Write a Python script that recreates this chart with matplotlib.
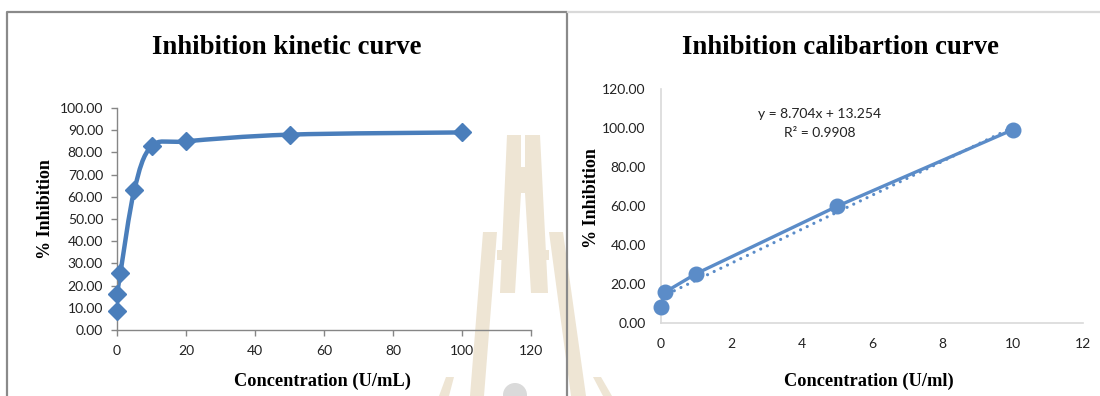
import matplotlib.pyplot as plt
from matplotlib.path import Path
from matplotlib.patches import PathPatch, Polygon, Circle
from matplotlib.lines import Line2D

# kinetic curve data
kin_conc = [0, 0.1, 1, 5, 10, 20, 50, 100]
kin_inhib = [8.6, 16.3, 25.8, 62.9, 82.7, 85.0, 88.0, 89.0]

# calibration data
cal_conc = [0, 0.1, 1, 5, 10]
cal_inhib = [8.2, 15.7, 25.3, 59.8, 99.1]
slope, intercept, r2 = 8.704, 13.254, 0.9908

W, H = 1100, 396
SERIF = "Liberation Serif"
SANS = "Lato"


def smooth_path(xs, ys):
    # Excel-style smoothed line as cubic bezier segments
    pts = list(zip(xs, ys))
    verts = [pts[0]]
    codes = [Path.MOVETO]
    n = len(pts)
    for i in range(n - 1):
        p0 = pts[i - 1] if i > 0 else pts[i]
        p1, p2 = pts[i], pts[i + 1]
        p3 = pts[i + 2] if i + 2 < n else p2
        c1 = (p1[0] + (p2[0] - p0[0]) / 6, p1[1] + (p2[1] - p0[1]) / 6)
        c2 = (p2[0] - (p3[0] - p1[0]) / 6, p2[1] - (p3[1] - p1[1]) / 6)
        verts += [c1, c2, p2]
        codes += [Path.CURVE4] * 3
    return Path(verts, codes)


fig = plt.figure(figsize=(W / 100, H / 100), dpi=100)

# background layer in pixel coords: frames + watermark
bg = fig.add_axes([0, 0, 1, 1])
bg.set_xlim(0, W)
bg.set_ylim(H, 0)
bg.axis("off")
tan = "#eee5d4"
shapes = [
    [(507, 135), (521, 135), (521, 167), (525, 167), (525, 135), (540, 135),
     (548, 293), (531, 293), (525, 193), (521, 193), (515, 293), (500, 293)],
    [(483, 232), (497, 232), (484, 396), (470, 396)],
    [(549, 232), (563, 232), (586, 396), (571, 396)],
    [(497, 250), (504, 250), (504, 260), (497, 260)],
    [(543, 250), (549, 250), (549, 260), (543, 260)],
    [(446, 377), (454, 377), (449, 396), (439, 396)],
    [(593, 377), (601, 377), (612, 396), (603, 396)],
]
for s in shapes:
    bg.add_patch(Polygon(s, closed=True, facecolor=tan, edgecolor="none"))
bg.add_patch(Circle((515, 395), 12, facecolor="#dadada", edgecolor="none"))
bg.add_line(Line2D([7, 7, 567, 567], [396, 12, 12, 396], color="#8a8a8a", lw=1.6))
bg.add_line(Line2D([568, 1100], [12, 12], color="#d9d9d9", lw=1.6))

# left: inhibition kinetic curve
ax1 = fig.add_axes([117 / W, 1 - 330 / H, 414 / W, 222 / H])
ax1.set_facecolor("none")
blue = "#4a7ebb"
ax1.add_patch(PathPatch(smooth_path(kin_conc, kin_inhib), facecolor="none",
                        edgecolor=blue, lw=3.2, capstyle="round", joinstyle="round"))
ax1.plot(kin_conc, kin_inhib, ls="none", marker="D", ms=9, color=blue, clip_on=False, zorder=3)
ax1.set_xlim(0, 120)
ax1.set_ylim(0, 100)
ax1.set_xticks(range(0, 121, 20))
ax1.set_yticks(range(0, 101, 10))
ax1.set_yticklabels([f"{v:.2f}" for v in range(0, 101, 10)])
for sp in ["top", "right"]:
    ax1.spines[sp].set_visible(False)
for sp in ["left", "bottom"]:
    ax1.spines[sp].set_color("#868686")
    ax1.spines[sp].set_linewidth(1.0)
ax1.tick_params(direction="out", length=4, width=1, color="#868686",
                labelsize=10, labelcolor="#222222")
ax1.tick_params(axis="y", pad=6)
ax1.tick_params(axis="x", pad=7)
for lab in ax1.get_xticklabels() + ax1.get_yticklabels():
    lab.set_family(SANS)

fig.text(287 / W, 1 - 48 / H, "Inhibition kinetic curve", ha="center", va="center",
         family=SERIF, weight="bold", fontsize=19.3)
fig.text(45 / W, 1 - 209 / H, "% Inhibition", ha="center", va="center", rotation=90,
         family=SERIF, weight="bold", fontsize=13)
fig.text(322 / W, 1 - 381 / H, "Concentration (U/mL)", ha="center", va="center",
         family=SERIF, weight="bold", fontsize=13.2)

# right: inhibition calibration curve
ax2 = fig.add_axes([661 / W, 1 - 323 / H, 422 / W, 234 / H])
ax2.set_facecolor("none")
blue2 = "#5b8cc8"
ax2.plot(cal_conc, cal_inhib, color=blue2, lw=2.4, marker="o", ms=10.5,
         clip_on=False, zorder=3)
tx = [0, 10]
ax2.plot(tx, [slope * x + intercept for x in tx], color=blue2, lw=2.3,
         ls=(0, (0.01, 2.3)), dash_capstyle="round", zorder=2)
ax2.set_xlim(0, 12)
ax2.set_ylim(0, 120)
ax2.set_xticks(range(0, 13, 2))
ax2.set_yticks(range(0, 121, 20))
ax2.set_yticklabels([f"{v:.2f}" for v in range(0, 121, 20)])
for sp in ["top", "right"]:
    ax2.spines[sp].set_visible(False)
for sp in ["left", "bottom"]:
    ax2.spines[sp].set_color("#d9d9d9")
    ax2.spines[sp].set_linewidth(1.2)
ax2.tick_params(length=0, labelsize=10, labelcolor="#222222")
ax2.tick_params(axis="y", pad=11)
ax2.tick_params(axis="x", pad=11)
for lab in ax2.get_xticklabels() + ax2.get_yticklabels():
    lab.set_family(SANS)
ax2.text(820 / W, 1 - 114 / H, f"y = {slope}x + {intercept}", transform=fig.transFigure,
         ha="center", va="center", family=SANS, fontsize=10, color="#222222")
ax2.text(820 / W, 1 - 133 / H, f"R² = {r2}", transform=fig.transFigure,
         ha="center", va="center", family=SANS, fontsize=10, color="#222222")

fig.text(840 / W, 1 - 48 / H, "Inhibition calibartion curve", ha="center", va="center",
         family=SERIF, weight="bold", fontsize=19.3)
fig.text(592 / W, 1 - 198 / H, "% Inhibition", ha="center", va="center", rotation=90,
         family=SERIF, weight="bold", fontsize=13)
fig.text(869 / W, 1 - 381 / H, "Concentration (U/ml)", ha="center", va="center",
         family=SERIF, weight="bold", fontsize=13.2)

fig.savefig("out.png", dpi=100)
